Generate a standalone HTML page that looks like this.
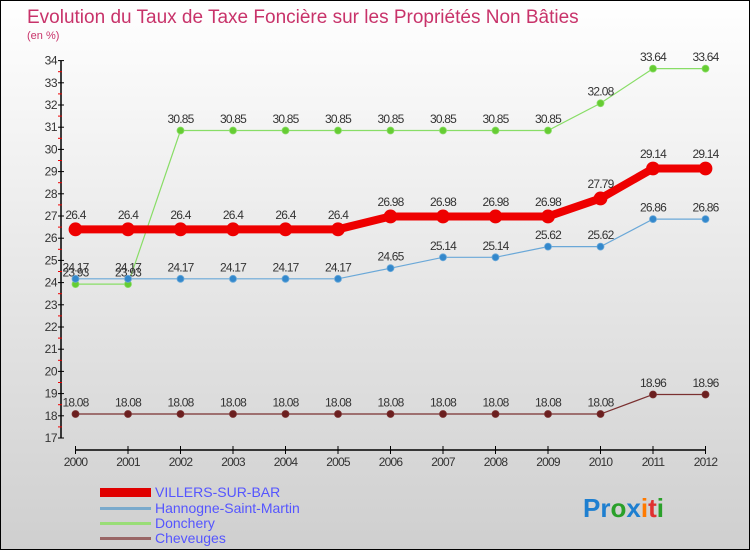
<!DOCTYPE html>
<html><head><meta charset="utf-8"><style>
body{margin:0;}
#c{width:750px;height:550px;position:relative;overflow:hidden;}
svg{display:block;font-family:"Liberation Sans",sans-serif;}
</style></head><body>
<div id="c">
<svg id="s" width="750" height="550" viewBox="0 0 750 550">
<defs><linearGradient id="bg" x1="0" y1="0" x2="0" y2="1"><stop offset="0" stop-color="#ffffff"/><stop offset="1" stop-color="#cfcfcf"/></linearGradient></defs>
<rect x="0.5" y="0.5" width="749" height="549" fill="url(#bg)" stroke="#000"/>
<text x="27" y="23" font-size="19" fill="#c8336a">Evolution du Taux de Taxe Foncière sur les Propriétés Non Bâties</text>
<text x="27" y="39" font-size="11" fill="#c8336a">(en %)</text>
<g id="axes"></g><g id="series"></g>
<g>
<rect x="100" y="488" width="51" height="9" fill="#e00000"/>
<text x="155" y="497" font-size="14" fill="#5555ff">VILLERS-SUR-BAR</text>
<rect x="100" y="507" width="51" height="3" fill="#7aaacc"/>
<text x="155" y="513" font-size="14" fill="#5555ff">Hannogne-Saint-Martin</text>
<rect x="100" y="522" width="51" height="3" fill="#99dd77"/>
<text x="155" y="528" font-size="14" fill="#5555ff">Donchery</text>
<rect x="100" y="537" width="51" height="3" fill="#996666"/>
<text x="155" y="543" font-size="14" fill="#5555ff">Cheveuges</text>
</g>
<g font-size="26" font-weight="bold">
<text x="583" y="517"><tspan fill="#1e7fd0">Pr</tspan><tspan fill="#2aa02a">o</tspan><tspan fill="#1e7fd0">x</tspan><tspan fill="#ff7a00">i</tspan><tspan fill="#e03030">t</tspan><tspan fill="#2aa02a">i</tspan></text>
</g>
</svg></div>
<script>
const years=["2000","2001","2002","2003","2004","2005","2006","2007","2008","2009","2010","2011","2012"];
const villers=[26.4,26.4,26.4,26.4,26.4,26.4,26.98,26.98,26.98,26.98,27.79,29.14,29.14];
const hannogne=[24.17,24.17,24.17,24.17,24.17,24.17,24.65,25.14,25.14,25.62,25.62,26.86,26.86];
const donchery=[23.93,23.93,30.85,30.85,30.85,30.85,30.85,30.85,30.85,30.85,32.08,33.64,33.64];
const cheveuges=[18.08,18.08,18.08,18.08,18.08,18.08,18.08,18.08,18.08,18.08,18.08,18.96,18.96];
const yTicks=[17,18,19,20,21,22,23,24,25,26,27,28,29,30,31,32,33,34];
const NS="http://www.w3.org/2000/svg";
const X=i=>75.5+i*52.5;
const Y=v=>438-(v-17)*22.2;
function mk(t,a,p){const e=document.createElementNS(NS,t);for(const k in a)e.setAttribute(k,a[k]);p.appendChild(e);return e;}
const ax=document.getElementById('axes');
const yl=mk('line',{x1:61,y1:Y(34),x2:61,y2:Y(17),stroke:'#000','stroke-width':1.5},ax);


yTicks.forEach(v=>{
 const t=mk('line',{x1:58,y1:Y(v),x2:64,y2:Y(v),stroke:'#000'},ax);
 
 
 if(v<34){const m=mk('line',{x1:58,y1:Y(v+0.5),x2:62,y2:Y(v+0.5),stroke:'#e00'},ax);
 
 }
 const l=mk('text',{x:57,y:Y(v)+4,'font-size':12,'text-anchor':'end',fill:'#333','letter-spacing':'-0.5'},ax);
 l.textContent=v;
 
 
});
const xl=mk('line',{x1:75,y1:450,x2:706,y2:450,stroke:'#000','stroke-width':1.5},ax);


years.forEach((y,i)=>{
 const t=mk('line',{x1:X(i),y1:446,x2:X(i),y2:454,stroke:'#000'},ax);
 
 
 const l=mk('text',{x:X(i),y:466,'font-size':12,'text-anchor':'middle',fill:'#333','letter-spacing':'-0.8'},ax);
 l.textContent=y;
 
 
});
const sg=document.getElementById('series');
function series(d,name,line,fill,w,r){
 const g=mk('g',{},sg);
 
 
 const p=mk('polyline',{points:d.map((v,i)=>X(i)+','+Y(v)).join(' '),fill:'none',stroke:line,'stroke-width':w},g);
 
 
 d.forEach((v,i)=>{
  const c=mk('circle',{cx:X(i),cy:Y(v),r:r,fill:fill,stroke:line,'stroke-width':0.8},g);
  
  
  const t=mk('text',{x:X(i),y:Y(v)-r-4,'font-size':12,'text-anchor':'middle',fill:'#333','letter-spacing':'-0.8'},g);
  t.textContent=v;
  
  
 });
}
series(cheveuges,'cheveuges','#7a3030','#6b1f1f',1.2,3.5);
series(donchery,'donchery','#88dd66','#66cc33',1.2,3.5);
series(hannogne,'hannogne','#6aa8d8','#3388cc',1.2,3.5);
series(villers,'villers','#ee0000','#ee0000',8,6.5);
</script>
</body></html>
